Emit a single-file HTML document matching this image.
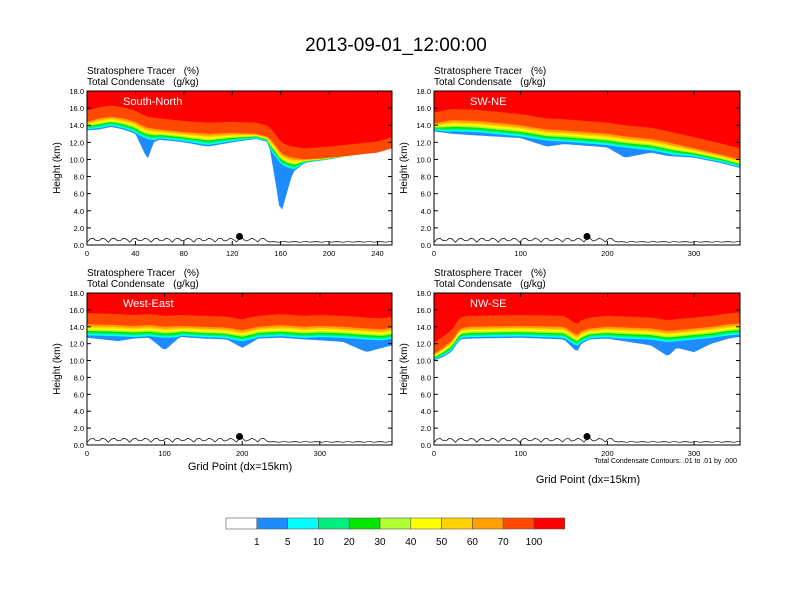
<!DOCTYPE html>
<html><head><meta charset="utf-8"><style>
body{margin:0;background:#fff;}
svg{display:block;font-family:"Liberation Sans",Arial,sans-serif;}
</style></head><body>
<svg id="fig" width="792" height="612" viewBox="0 0 792 612">
<text x="396" y="51" font-size="19" text-anchor="middle">2013-09-01_12:00:00</text>
</svg>
<script>
const levelLabels = ["1","5","10","20","30","40","50","60","70","100"];
const levelColors = ["#ffffff","#1e8cff","#00ffff","#00f080","#00e600","#b0ff30","#ffff00","#ffd200","#ffa000","#ff4800","#ff0000"];
const yTicks = [0,2,4,6,8,10,12,14,16,18];
const yTickLabels = ["0.0","2.0","4.0","6.0","8.0","10.0","12.0","14.0","16.0","18.0"];

const p1X = [0,10,20,30,40,45,50,55,60,80,100,120,140,150,155,160,165,170,180,200,240,252];
const p1Base = [13.4,13.5,13.8,13.5,13.0,11.5,10.0,12.0,12.3,12.0,11.5,12.0,12.4,12.0,8.0,3.5,6.0,8.5,9.6,10.0,11.0,11.6];
const p1Top = [14.4,14.8,15.0,14.8,14.4,14.0,13.7,13.6,13.5,13.2,13.0,13.1,13.0,12.6,11.8,10.8,10.4,10.2,10.0,10.2,10.8,11.3];
const p1Ticks = [0,40,80,120,160,200,240];

const p2X = [0,20,50,100,130,150,200,220,250,270,300,330,353];
const p2Base = [13.3,13.0,12.8,12.5,11.5,11.8,11.4,10.2,10.8,10.4,10.2,9.6,9.0];
const p2Top = [14.2,14.6,14.5,14.0,13.5,13.4,13.0,12.7,12.4,12.0,11.3,10.6,10.0];
const p2Ticks = [0,100,200,300];

const p3X = [0,40,60,80,100,120,150,180,200,210,220,250,280,300,330,360,380,393];
const p3Base = [12.7,12.3,12.6,12.7,11.2,12.8,12.6,12.5,11.5,12.0,12.6,12.7,12.5,12.4,12.2,11.0,11.5,11.8];
const p3Top = [14.3,14.2,14.1,14.2,14.0,14.1,14.0,13.9,13.6,13.8,14.0,14.2,14.0,14.1,14.0,13.8,13.7,13.9];
const p3Ticks = [0,100,200,300];

const p4X = [0,10,20,30,40,100,150,165,170,180,200,250,270,280,300,320,340,353];
const p4Base = [10.0,10.4,11.0,12.5,12.6,12.7,12.5,11.0,12.0,12.5,12.6,11.8,10.5,11.5,11.0,12.0,12.6,12.8];
const p4Top = [10.8,11.5,12.3,13.8,14.0,14.1,14.0,13.0,13.5,13.8,14.0,13.8,13.5,13.6,13.8,14.0,14.3,14.4];
const p4Ticks = [0,100,200,300];

const fracs = [0,0.12,0.24,0.36,0.48,0.6,0.72,0.84,1.0];
const NS="http://www.w3.org/2000/svg";
const svg=document.getElementById('fig');
function mk(tag,attrs,parent){const e=document.createElementNS(NS,tag);for(const k in attrs)e.setAttribute(k,attrs[k]);(parent||svg).appendChild(e);return e;}
function interp(xs,ys,x){if(x<=xs[0])return ys[0];for(let i=1;i<xs.length;i++){if(x<=xs[i]){const t=(x-xs[i-1])/(xs[i]-xs[i-1]);return ys[i-1]+t*(ys[i]-ys[i-1]);}}return ys[ys.length-1];}

function panel(px,py,w,h,xmax,xs,base,top,ticks,name,label){
  const g=mk('g',{});
  
  
  const sx=v=>px+v/xmax*w, sy=v=>py+h-v/18*h;
  const t1=mk('text',{x:px,y:py-17,'font-size':10},g);t1.textContent='Stratosphere Tracer\u00a0\u00a0\u00a0(%)';
  
  const t2=mk('text',{x:px,y:py-6,'font-size':10},g);t2.textContent='Total Condensate\u00a0\u00a0\u00a0(g/kg)';
  
  const N=100;
  for(let L=0;L<10;L++){
    let pts=[];
    for(let i=0;i<=N;i++){const x=xmax*i/N;const b=interp(xs,base,x),tp=interp(xs,top,x);
      const thick=Math.min(tp-b,1.5);
      let hv;
      if(L===0) hv=b;
      else if(L<9) hv=tp-thick*(1-fracs[L]);
      else hv=tp+1.3;
      pts.push(sx(x).toFixed(1)+','+sy(Math.min(18,hv)).toFixed(1));}
    pts.push(sx(xmax)+','+py);pts.push(px+','+py);
    const poly=mk('polygon',{points:pts.join(' '),fill:levelColors[L+1]},g);
    
    
  }
  let tp=[];for(let i=0;i<=N;i++){const x=xmax*i/N;tp.push(sx(x).toFixed(1)+','+sy(0.3+0.5*Math.abs(Math.sin(i*0.9))*(i<N*0.6?1:0.2)).toFixed(1));}
  const tl=mk('polyline',{points:tp.join(' '),fill:'none',stroke:'#000','stroke-width':0.7},g);
  
  const dot=mk('circle',{cx:px+w*0.5,cy:sy(1.0),r:3.5,fill:'#000'},g);
  
  const lab=mk('text',{x:px+36,y:py+14,'font-size':11,fill:'#fff'},g);lab.textContent=label;
  
  const fr=mk('rect',{x:px,y:py,width:w,height:h,fill:'none',stroke:'#000','stroke-width':1},g);
  
  yTicks.forEach((v,i)=>{
    mk('line',{x1:px,x2:px+4,y1:sy(v),y2:sy(v),stroke:'#000'},g);
    mk('line',{x1:px+w,x2:px+w-4,y1:sy(v),y2:sy(v),stroke:'#000'},g);
    const t=mk('text',{x:px-3,y:sy(v)+3,'font-size':7.5,'text-anchor':'end'},g);t.textContent=yTickLabels[i];
    
  });
  ticks.forEach(v=>{
    mk('line',{x1:sx(v),x2:sx(v),y1:py+h,y2:py+h-4,stroke:'#000'},g);
    mk('line',{x1:sx(v),x2:sx(v),y1:py,y2:py+4,stroke:'#000'},g);
    const t=mk('text',{x:sx(v),y:py+h+11,'font-size':7.5,'text-anchor':'middle'},g);t.textContent=v;
    
  });
  const yt=mk('text',{x:0,y:0,'font-size':10,'text-anchor':'middle',transform:`translate(${px-27},${py+h/2}) rotate(-90)`},g);yt.textContent='Height (km)';
  
  return g;
}
panel(87,91,305,154,252,p1X,p1Base,p1Top,p1Ticks,'south-north','South-North');
panel(434,91,306,154,353,p2X,p2Base,p2Top,p2Ticks,'sw-ne','SW-NE');
panel(87,293,305,152,393,p3X,p3Base,p3Top,p3Ticks,'west-east','West-East');
panel(434,293,306,152,353,p4X,p4Base,p4Top,p4Ticks,'nw-se','NW-SE');

let t=mk('text',{x:240,y:470,'font-size':11,'text-anchor':'middle'});t.textContent='Grid Point (dx=15km)';

t=mk('text',{x:588,y:483,'font-size':11,'text-anchor':'middle'});t.textContent='Grid Point (dx=15km)';

t=mk('text',{x:737,y:463,'font-size':7,'text-anchor':'end'});t.textContent='Total Condensate Contours: .01 to .01 by .000';


const cbx=226,cbw=30.8,cby=518,cbh=11;
for(let i=0;i<11;i++){
  const r=mk('rect',{x:cbx+i*cbw,y:cby,width:cbw,height:cbh,fill:levelColors[i],stroke:'#555','stroke-width':0.6});
  
}
levelLabels.forEach((l,i)=>{
  const tt=mk('text',{x:cbx+(i+1)*cbw,y:cby+27,'font-size':10,'text-anchor':'middle'});tt.textContent=l;
  
});
</script>
</body></html>
